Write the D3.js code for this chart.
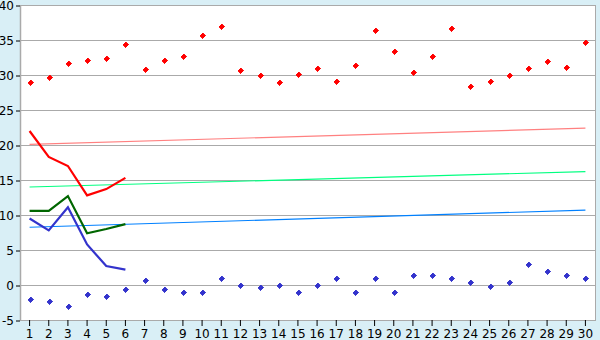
<!DOCTYPE html>
<html>
<head>
<meta charset="utf-8">
<script src="https://cdn.jsdelivr.net/npm/d3@7"></script>
<style>
  html, body { margin: 0; padding: 0; background: #d9eff6; }
  svg { display: block; }
  text { font-family: "DejaVu Sans", Verdana, sans-serif; font-size: 12px; fill: #000; }
</style>
</head>
<body>
<svg id="chart" width="600" height="340"></svg>
<script>
// days of the month
const days = d3.range(1, 31);

// daily max / min (scatter)
const maxTemps = [29.0, 29.7, 31.7, 32.2, 32.4, 34.5, 30.8, 32.2, 32.7, 35.7,
  37.0, 30.7, 30.0, 29.0, 30.2, 31.0, 29.1, 31.5, 36.4, 33.5,
  30.5, 32.7, 36.7, 28.4, 29.1, 30.0, 31.0, 32.0, 31.1, 34.7];
const minTemps = [-2.0, -2.3, -3.0, -1.3, -1.5, -0.6, 0.7, -0.5, -1.0, -1.0,
  1.0, 0.0, -0.3, 0.0, -1.0, 0.0, 1.0, -1.0, 1.0, -1.0,
  1.5, 1.4, 1.0, 0.4, -0.2, 0.5, 3.0, 2.0, 1.5, 1.0];

// observed lines (first 6 days)
const lineDays = [1, 2, 3, 4, 5, 6];
const redLine = [22.0, 18.3, 17.0, 12.8, 13.7, 15.3];
const greenLine = [10.6, 10.6, 12.7, 7.4, 8.0, 8.7];
const blueLine = [9.5, 7.8, 11.1, 5.8, 2.7, 2.2];

// normals, day 1 and day 30
const normalDays = [1, 30];
const normalMax = [20.1, 22.4];
const normalMean = [14.0, 16.2];
const normalMin = [8.25, 10.7];

const yTicks = [-5, 0, 5, 10, 15, 20, 25, 30, 35, 40];

const svg = d3.select("#chart");
const mLeft = 20, mRight = 595, mTop = 5, mBottom = 320;

const x = d3.scaleBand().domain(days).range([mLeft, mRight]).padding(0);
const cx = d => x(d) + x.bandwidth() / 2;
const y = d3.scaleLinear().domain([-5, 40]).range([mBottom, mTop]);

// plot area
svg.append("rect")
  .attr("x", mLeft).attr("y", mTop)
  .attr("width", mRight - mLeft).attr("height", mBottom - mTop)
  .attr("fill", "#fff");

// grid lines
svg.append("g")
  .selectAll("line")
  .data(yTicks)
  .join("line")
  .attr("x1", mLeft).attr("x2", mRight)
  .attr("y1", d => Math.round(y(d)) + 0.5)
  .attr("y2", d => Math.round(y(d)) + 0.5)
  .attr("stroke", "#aaaaaa");

// borders left / right
svg.append("line")
  .attr("x1", mLeft + 0.5).attr("x2", mLeft + 0.5)
  .attr("y1", mTop).attr("y2", mBottom + 1)
  .attr("stroke", "#aaaaaa").attr("stroke-width", 1.5);
svg.append("line")
  .attr("x1", mRight + 0.5).attr("x2", mRight + 0.5)
  .attr("y1", mTop).attr("y2", mBottom + 1)
  .attr("stroke", "#aaaaaa");

// y axis
const yAxis = svg.append("g")
  .attr("transform", `translate(${mLeft},0.5)`)
  .call(d3.axisLeft(y).tickValues(yTicks).tickSize(4).tickPadding(2).tickFormat(d => String(d)));
yAxis.select(".domain").remove();
yAxis.selectAll("line").attr("stroke", "#000");
yAxis.selectAll("text").style("font-size", "12px").attr("fill", "#000");

// x axis
const xAxis = svg.append("g")
  .attr("transform", `translate(0,${mBottom})`)
  .call(d3.axisBottom(x).tickSize(6).tickPadding(3));
xAxis.select(".domain").remove();
xAxis.selectAll("line").attr("stroke", "#000");
xAxis.selectAll("text").style("font-size", "12px").attr("fill", "#000");

// normals
const line = d3.line().x(d => cx(d[0])).y(d => y(d[1]));
[[normalMax, "#ff8080"], [normalMean, "#00ff80"], [normalMin, "#0080ff"]].forEach(([vals, col]) => {
  svg.append("path")
    .datum(normalDays.map((d, i) => [d, vals[i]]))
    .attr("d", line)
    .attr("fill", "none")
    .attr("stroke", col)
    .attr("stroke-width", 1.2);
});

// observed lines
[[redLine, "#ff0000"], [greenLine, "#006600"], [blueLine, "#3333cc"]].forEach(([vals, col]) => {
  svg.append("path")
    .datum(lineDays.map((d, i) => [d, vals[i]]))
    .attr("d", line)
    .attr("fill", "none")
    .attr("stroke", col)
    .attr("stroke-width", 2.2);
});

// markers: small pixel cross
const marker = "M-0.5,-2.5h1v1h1v1h1v1h-1v1h-1v1h-1v-1h-1v-1h-1v-1h1v-1h1z";
function drawMarkers(vals, col) {
  svg.append("g")
    .selectAll("path")
    .data(days.map((d, i) => [d, vals[i]]))
    .join("path")
    .attr("transform", d => `translate(${Math.round(cx(d[0])) + 0.5},${Math.round(y(d[1])) + 0.5})`)
    .attr("d", marker)
    .attr("fill", col)
    .attr("stroke", col)
    .attr("stroke-width", 0.9)
    .attr("shape-rendering", "crispEdges");
}
drawMarkers(maxTemps, "#ff0000");
drawMarkers(minTemps, "#3333cc");
</script>
</body>
</html>
